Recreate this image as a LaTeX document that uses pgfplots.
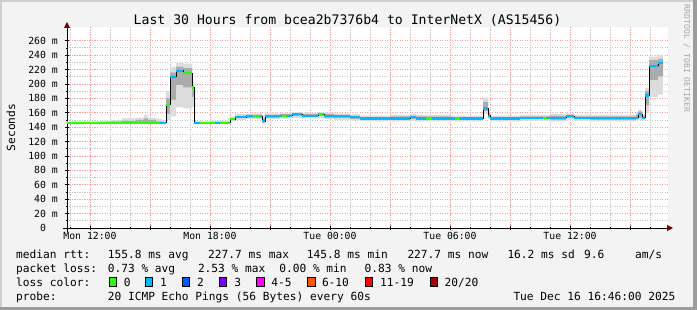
\documentclass[border=0pt]{standalone}
\usepackage{pgfplots}
\pgfplotsset{compat=1.18}
\usepackage{pgfplotstable}
\usetikzlibrary{arrows.meta}
\usepackage{fontspec}
\setmainfont{DejaVu Sans Mono}
\definecolor{bgc}{HTML}{F3F3F3}
\definecolor{brdL}{HTML}{CFCFCF}
\definecolor{brdD}{HTML}{9C9C9C}
\definecolor{mgrid}{HTML}{F4A0A0}
\definecolor{ngrid}{HTML}{C8C8C8}
\definecolor{arr}{HTML}{800000}
\definecolor{l0}{HTML}{26FF00}
\definecolor{l1}{HTML}{00B8FF}
\definecolor{l2}{HTML}{0059FF}
\definecolor{l3}{HTML}{7E00FF}
\definecolor{l4}{HTML}{FF00FF}
\definecolor{l6}{HTML}{FF5500}
\definecolor{l11}{HTML}{FF0000}
\definecolor{l20}{HTML}{A00000}
\definecolor{smk1}{HTML}{DCDCDC}
\definecolor{smk2}{HTML}{ABABAB}
\newcommand\lfont{\fontsize{11.2}{13}\selectfont}
\newcommand\tfont{\fontsize{9.8}{11}\selectfont}

\pgfplotstableread{
x m
10.85 146
15.8 171
16.0 210
16.3 218
16.65 215
17.1 195
17.2 146
19.0 151
19.25 154
19.8 155
20.6 148
20.75 155
21.5 156
22.1 158
22.6 156
23.4 158
23.7 156
24.2 155
25.0 154
25.5 152
28.0 154
28.3 152
31.65 166
31.9 156
32.0 152
33.5 153
35.8 155
36.2 153
39.4 158
39.6 153
39.75 184
39.95 225
40.4 229
40.65 229
}\median

\pgfplotstableread{
x L l h H
10.85 145 145.5 147 148
12.5 145 145.5 147.5 149
13.0 145 145.5 148 150
13.6 145 146 149 152
14.3 145 146 150 153
14.7 145 146 152 157
14.9 145 146 150 153
15.3 145 146 148 151
15.6 145 145.5 147 150
15.8 150 158 180 190
16.0 155 178 216 224
16.3 168 198 224 229
16.65 166 195 222 228
17.1 168 182 198 202
17.2 145 145.5 147 148
18.0 145 145.5 147.5 149
19.0 148 150 153 155
19.25 150 152 156 158
19.8 151 153 157 159
20.6 145 146 152 156
20.75 151 153 157 159
21.5 152 154 158 160
22.1 153 155 159 161
22.6 152 154 158 160
23.4 153 155 159 161
23.7 151 153 158 160
24.2 150 152 157 159
25.0 149 151 156 158
25.5 148 150 154 156
27.0 148 150 155 157
28.0 149 151 156 158
28.3 148 150 155 157
30.0 148 150 154 156
31.65 158 162 175 181
31.9 151 153 160 163
32.0 148 150 154 156
33.5 149 151 155 157
35.0 148 150 156 158
35.8 150 152 157 159
36.2 149 151 155 157
37.0 148 150 155 157
38.5 148 150 155 157
39.3 149 151 157 161
39.4 150 153 162 164
39.6 149 151 156 158
39.75 160 170 190 195
39.95 182 205 233 238
40.4 185 210 235 240
40.65 185 210 235 240
}\smoke

\newcommand\lgd[3]{\node[font=\lfont, anchor=west, inner sep=0pt, text height=8.2pt, text depth=0pt] at (#1,-#2) {#3};}
\newcommand\bx[3]{\filldraw[fill=#3, draw=black, line width=0.8pt] (#1,-#2+4.5) rectangle ++(7.5,-9);}

\pgfplotsset{frame/.style={
  at={(67pt,-228pt)}, anchor=south west,
  scale only axis, width=601pt, height=201pt,
  xmin=10.85, xmax=40.9, ymin=0, ymax=279}}

\begin{document}
\begin{tikzpicture}[x=1pt,y=1pt]
\fill[bgc] (0,0) rectangle (697,-310);
\fill[brdL] (0,0) rectangle (697,-2);
\fill[brdL] (0,0) rectangle (2,-310);
\fill[brdD] (0,-306.7) rectangle (697,-310);
\fill[brdD] (693.3,0) rectangle (697,-310);

\begin{axis}[frame,
  axis background/.style={fill=white},
  axis lines=left,
  axis line style={line width=0.9pt, black},
  x axis line style={shorten >=-5pt, shorten <=-4pt, -{Triangle[length=6pt,width=6pt,color=arr]}},
  y axis line style={shorten >=-5pt, shorten <=-4pt, -{Triangle[length=6pt,width=6pt,color=arr]}},
  xtick={12,15,18,21,24,27,30,33,36,39},
  xticklabels={Mon 12:00,,Mon 18:00,,Tue 00:00,,Tue 06:00,,Tue 12:00,},
  minor xtick={11,...,40},
  ytick={0,20,40,60,80,100,120,140,160,180,200,220,240,260},
  yticklabels={0\phantom{xx},20 m,40 m,60 m,80 m,100 m,120 m,140 m,160 m,180 m,200 m,220 m,240 m,260 m},
  minor y tick num=1,
  grid=both,
  major grid style={mgrid, dash pattern=on 1.2pt off 1.3pt, line width=0.8pt},
  minor grid style={ngrid, dash pattern=on 1.2pt off 1.3pt, line width=0.8pt},
  tick align=center, major tick length=4pt, minor tick length=2pt,
  tick style={black, line width=0.6pt},
  /pgf/number format/assume math mode=true,
  xticklabel style={font=\tfont, inner sep=0pt, text height=7.2pt, text depth=0pt, anchor=north, yshift=-2pt},
  yticklabel style={font=\tfont, inner sep=0pt, text height=7.2pt, text depth=0pt, anchor=east, xshift=-7pt},
  stack plots=y, const plot,
]
\addplot[draw=none] table[x=x,y=L]{\smoke};
\addplot[draw=none, fill=smk1] table[x=x,y expr=\thisrow{l}-\thisrow{L}]{\smoke} \closedcycle;
\addplot[draw=none, fill=smk2] table[x=x,y expr=\thisrow{h}-\thisrow{l}]{\smoke} \closedcycle;
\addplot[draw=none, fill=smk1] table[x=x,y expr=\thisrow{H}-\thisrow{h}]{\smoke} \closedcycle;
\end{axis}

\begin{axis}[frame, hide axis]
\addplot[const plot, black, line width=0.9pt] table[x=x,y=m]{\median};
\addplot[jump mark left, l1, line width=2.2pt] table[x=x,y=m]{\median};
\addplot[l0, line width=2.2pt] coordinates {(10.85,146) (15.5,146)};
\addplot[l0, line width=2.2pt] coordinates {(15.8,171) (16.0,171)};
\addplot[l0, line width=2.2pt] coordinates {(16.65,215) (17.1,215)};
\addplot[l0, line width=2.2pt] coordinates {(17.1,195) (17.2,195)};
\addplot[l0, line width=2.2pt] coordinates {(17.5,146) (18.25,146)};
\addplot[l0, line width=2.2pt] coordinates {(18.5,146) (19.0,146)};
\addplot[l0, line width=2.2pt] coordinates {(19.0,151) (19.25,151)};
\addplot[l0, line width=2.2pt] coordinates {(20.15,155) (20.5,155)};
\addplot[l0, line width=2.2pt] coordinates {(21.6,156) (21.85,156)};
\addplot[l0, line width=2.2pt] coordinates {(23.45,158) (23.65,158)};
\addplot[l0, line width=2.2pt] coordinates {(28.8,152) (29.1,152)};
\addplot[l0, line width=2.2pt] coordinates {(30.25,152) (30.5,152)};
\addplot[l0, line width=2.2pt] coordinates {(34.65,153) (34.85,153)};
\end{axis}

\node[font=\fontsize{13.15}{15}\selectfont, inner sep=0pt, text height=9.6pt, text depth=0pt] at (347.5,-19.5) {Last 30 Hours from bcea2b7376b4 to InterNetX (AS15456)};
\node[font=\lfont, rotate=90, inner sep=0pt, text height=8.2pt, text depth=0pt] at (11,-127.5) {Seconds};
\node[font=\fontsize{8.1}{9}\selectfont, rotate=-90, inner sep=0pt, text height=5.9pt, text depth=0pt, text=gray!70] at (687,-58.5) {RRDTOOL / TOBI OETIKER};

\lgd{16}{254.7}{median rtt:}
\lgd{107.6}{254.7}{155.8 ms avg}
\lgd{208}{254.7}{227.7 ms max}
\lgd{306.7}{254.7}{145.8 ms min}
\lgd{407.3}{254.7}{227.7 ms now}
\lgd{507.3}{254.7}{16.2 ms sd}
\lgd{584}{254.7}{9.6}
\lgd{635}{254.7}{am/s}
\lgd{16}{268.3}{packet loss:}
\lgd{107.6}{268.3}{0.73 \% avg}
\lgd{197.8}{268.3}{2.53 \% max}
\lgd{279.1}{268.3}{0.00 \% min}
\lgd{364.4}{268.3}{0.83 \% now}
\lgd{16}{282.3}{loss color:}
\bx{108.9}{282.3}{l0}\lgd{123.6}{282.3}{0}
\bx{145.3}{282.3}{l1}\lgd{160}{282.3}{1}
\bx{182.2}{282.3}{l2}\lgd{196.9}{282.3}{2}
\bx{219.1}{282.3}{l3}\lgd{234.2}{282.3}{3}
\bx{256.4}{282.3}{l4}\lgd{271.1}{282.3}{4-5}
\bx{307.6}{282.3}{l6}\lgd{321.8}{282.3}{6-10}
\bx{365.3}{282.3}{l11}\lgd{380}{282.3}{11-19}
\bx{430.2}{282.3}{l20}\lgd{444.4}{282.3}{20/20}
\lgd{16}{296}{probe:}
\lgd{107.6}{296}{20 ICMP Echo Pings (56 Bytes) every 60s}
\lgd{513.3}{296}{Tue Dec 16 16:46:00 2025}
\end{tikzpicture}
\end{document}
